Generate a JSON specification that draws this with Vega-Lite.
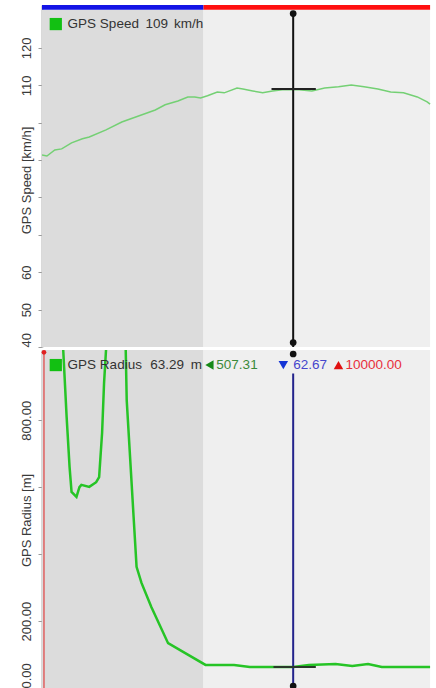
{
  "$schema": "https://vega.github.io/schema/vega-lite/v6.json",
  "padding": {"left": 20, "top": 5, "right": 0, "bottom": 0},
  "spacing": 3,
  "bounds": "flush",
  "config": {"view": {"stroke": null}, "font": "Liberation Sans", "axis": {"grid": false}},
  "datasets": {
    "zones": [{"start": 0, "end": 164, "zone": "A"}, {"start": 164, "end": 394, "zone": "B"}],
    "speed": [
      {"d": 0, "v": 91.4}, {"d": 5, "v": 91.1}, {"d": 13, "v": 92.7}, {"d": 20, "v": 93.0}, {"d": 30, "v": 94.6},
      {"d": 41, "v": 95.7}, {"d": 48, "v": 96.2}, {"d": 65, "v": 98.1}, {"d": 81, "v": 100.2}, {"d": 98, "v": 101.8},
      {"d": 115, "v": 103.4}, {"d": 125, "v": 104.8}, {"d": 138, "v": 105.8}, {"d": 148, "v": 106.9}, {"d": 155, "v": 106.9},
      {"d": 161, "v": 106.6}, {"d": 168, "v": 107.2}, {"d": 178, "v": 108.2}, {"d": 185, "v": 108.0}, {"d": 198, "v": 109.3},
      {"d": 204, "v": 109.0}, {"d": 214, "v": 108.5}, {"d": 224, "v": 108.0}, {"d": 234, "v": 108.5}, {"d": 244, "v": 108.8},
      {"d": 261, "v": 108.8}, {"d": 274, "v": 108.5}, {"d": 287, "v": 109.3}, {"d": 301, "v": 109.6}, {"d": 314, "v": 110.1},
      {"d": 327, "v": 109.6}, {"d": 341, "v": 109.0}, {"d": 354, "v": 108.2}, {"d": 367, "v": 108.0}, {"d": 381, "v": 106.9},
      {"d": 391, "v": 105.6}, {"d": 394, "v": 105.0}
    ],
    "radius": [
      {"d": 20, "v": 1100}, {"d": 25, "v": 810}, {"d": 28, "v": 660}, {"d": 30, "v": 586}, {"d": 35, "v": 571},
      {"d": 38, "v": 600}, {"d": 40, "v": 607}, {"d": 48, "v": 601}, {"d": 55, "v": 615}, {"d": 58, "v": 630},
      {"d": 61, "v": 762}, {"d": 63, "v": 911}, {"d": 65, "v": 1010}, {"d": 66, "v": 1100}, {"d": 84, "v": 1100},
      {"d": 85, "v": 1010}, {"d": 86, "v": 860}, {"d": 89, "v": 711}, {"d": 93, "v": 511}, {"d": 95, "v": 412},
      {"d": 96, "v": 362}, {"d": 101, "v": 314}, {"d": 111, "v": 242}, {"d": 128, "v": 134}, {"d": 145, "v": 105},
      {"d": 166, "v": 69}, {"d": 195, "v": 69}, {"d": 211, "v": 63}, {"d": 235, "v": 63}, {"d": 255, "v": 63},
      {"d": 271, "v": 69}, {"d": 298, "v": 72}, {"d": 315, "v": 66}, {"d": 331, "v": 72}, {"d": 345, "v": 63},
      {"d": 388, "v": 63}, {"d": 394, "v": 63}
    ]
  },
  "vconcat": [
    {
      "width": 394,
      "height": 342,
      "resolve": {"scale": {"color": "independent"}},
      "layer": [
        {
          "data": {"name": "zones"},
          "mark": "rect",
          "encoding": {
            "x": {"field": "start", "type": "quantitative", "scale": {"domain": [0, 394]}, "axis": null},
            "x2": {"field": "end"},
            "y": {
              "datum": 40, "type": "quantitative",
              "scale": {"domain": [40, 131.5], "nice": false, "zero": false},
              "axis": {
                "title": "GPS Speed [km/h]",
                "values": [40, 50, 60, 70, 80, 90, 100, 110, 120],
                "labelExpr": "datum.value >= 70 && datum.value <= 100 ? '' : datum.label",
                "format": "d",
                "labelAngle": -90,
                "labelAlign": {"condition": {"test": "datum.value == 40", "value": "left"}, "value": "center"},
                "labelBaseline": "bottom",
                "labelPadding": 5,
                "tickSize": 4,
                "tickColor": "#9a9a9a",
                "domainColor": "#b4b4b4",
                "domainWidth": 2,
                "labelColor": "#3a3a3a",
                "labelFontSize": 13,
                "titleFontSize": 13,
                "titleFontWeight": "normal",
                "titleColor": "#3a3a3a",
                "titleAngle": -90,
                "titleBaseline": "bottom",
                "titleAlign": "center",
                "titleX": -9,
                "titleY": 175,
                "grid": false
              }
            },
            "y2": {"datum": 130.2},
            "color": {"field": "zone", "type": "nominal", "scale": {"domain": ["A", "B"], "range": ["#dcdcdc", "#efefef"]}, "legend": null}
          }
        },
        {
          "data": {"name": "zones"},
          "mark": "rect",
          "encoding": {
            "x": {"field": "start", "type": "quantitative", "axis": null},
            "x2": {"field": "end"},
            "y": {"datum": 130.2, "type": "quantitative"},
            "y2": {"datum": 131.5},
            "color": {"field": "zone", "type": "nominal", "scale": {"domain": ["A", "B"], "range": ["#1414e6", "#ff1010"]}, "legend": null}
          }
        },
        {
          "data": {"name": "speed"},
          "mark": {"type": "line", "color": "#74d074", "strokeWidth": 1.5, "clip": true},
          "encoding": {
            "x": {"field": "d", "type": "quantitative", "axis": null},
            "y": {"field": "v", "type": "quantitative"}
          }
        },
        {
          "data": {"values": [{"d": 255}]},
          "mark": {"type": "rule", "color": "#111111", "strokeWidth": 2},
          "encoding": {
            "x": {"field": "d", "type": "quantitative", "axis": null},
            "y": {"datum": 40, "type": "quantitative"},
            "y2": {"datum": 129.5}
          }
        },
        {
          "data": {"values": [{"from": 233, "to": 278, "v": 109}]},
          "mark": {"type": "rule", "color": "#222222", "strokeWidth": 2},
          "encoding": {
            "x": {"field": "from", "type": "quantitative", "axis": null},
            "x2": {"field": "to"},
            "y": {"field": "v", "type": "quantitative"}
          }
        },
        {
          "data": {"values": [{"d": 255, "v": 129.2}, {"d": 255, "v": 41.2}]},
          "mark": {"type": "point", "filled": true, "color": "#111111", "size": 45, "opacity": 1},
          "encoding": {
            "x": {"field": "d", "type": "quantitative", "axis": null},
            "y": {"field": "v", "type": "quantitative"}
          }
        },
        {
          "data": {"values": [{"d": 14, "v": 126.4}]},
          "mark": {"type": "point", "shape": "square", "filled": true, "color": "#12c012", "size": 150, "opacity": 1},
          "encoding": {
            "x": {"field": "d", "type": "quantitative", "axis": null},
            "y": {"field": "v", "type": "quantitative"}
          }
        },
        {
          "data": {"values": [
            {"d": 26, "v": 126.4, "label": "GPS Speed"},
            {"d": 105, "v": 126.4, "label": "109"},
            {"d": 134, "v": 126.4, "label": "km/h"}
          ]},
          "mark": {"type": "text", "align": "left", "baseline": "middle", "fontSize": 13.5, "color": "#333333"},
          "encoding": {
            "x": {"field": "d", "type": "quantitative", "axis": null},
            "y": {"field": "v", "type": "quantitative"},
            "text": {"field": "label"}
          }
        }
      ]
    },
    {
      "width": 394,
      "height": 338,
      "resolve": {"scale": {"color": "independent", "shape": "independent"}},
      "layer": [
        {
          "data": {"name": "zones"},
          "mark": "rect",
          "encoding": {
            "x": {"field": "start", "type": "quantitative", "scale": {"domain": [0, 394]}, "axis": null},
            "x2": {"field": "end"},
            "y": {
              "datum": 0, "type": "quantitative",
              "scale": {"domain": [0, 1010], "nice": false, "zero": false},
              "axis": {
                "title": "GPS Radius [m]",
                "values": [0, 200, 400, 600, 800],
                "labelExpr": "datum.value == 400 || datum.value == 600 ? '' : datum.label",
                "format": ".2f",
                "labelAngle": -90,
                "labelAlign": {"condition": {"test": "datum.value == 0", "value": "left"}, "value": "center"},
                "labelBaseline": "bottom",
                "labelPadding": 5,
                "tickSize": 4,
                "tickColor": "#9a9a9a",
                "domainColor": "#b4b4b4",
                "domainWidth": 2,
                "labelColor": "#3a3a3a",
                "labelFontSize": 13,
                "titleFontSize": 13,
                "titleFontWeight": "normal",
                "titleColor": "#3a3a3a",
                "titleAngle": -90,
                "titleBaseline": "bottom",
                "titleAlign": "center",
                "titleX": -9,
                "titleY": 170,
                "grid": false
              }
            },
            "y2": {"datum": 1010},
            "color": {"field": "zone", "type": "nominal", "scale": {"domain": ["A", "B"], "range": ["#dcdcdc", "#efefef"]}, "legend": null}
          }
        },
        {
          "data": {"values": [{"d": 2}]},
          "mark": {"type": "rule", "color": "#e06060", "strokeWidth": 1.5},
          "encoding": {
            "x": {"field": "d", "type": "quantitative", "axis": null},
            "y": {"datum": 0, "type": "quantitative"},
            "y2": {"datum": 1005}
          }
        },
        {
          "data": {"values": [{"d": 2, "v": 1003}]},
          "mark": {"type": "point", "filled": true, "color": "#e02020", "size": 22, "opacity": 1},
          "encoding": {
            "x": {"field": "d", "type": "quantitative", "axis": null},
            "y": {"field": "v", "type": "quantitative"}
          }
        },
        {
          "data": {"name": "radius"},
          "mark": {"type": "line", "color": "#26c426", "strokeWidth": 2.5, "clip": true},
          "encoding": {
            "x": {"field": "d", "type": "quantitative", "axis": null},
            "y": {"field": "v", "type": "quantitative"}
          }
        },
        {
          "data": {"values": [{"d": 255}]},
          "mark": {"type": "rule", "color": "#23238c", "strokeWidth": 2},
          "encoding": {
            "x": {"field": "d", "type": "quantitative", "axis": null},
            "y": {"datum": 5, "type": "quantitative"},
            "y2": {"datum": 940}
          }
        },
        {
          "data": {"values": [{"from": 235, "to": 278, "v": 63}]},
          "mark": {"type": "rule", "color": "#2a3a2a", "strokeWidth": 2},
          "encoding": {
            "x": {"field": "from", "type": "quantitative", "axis": null},
            "x2": {"field": "to"},
            "y": {"field": "v", "type": "quantitative"}
          }
        },
        {
          "data": {"values": [{"d": 255, "v": 998}, {"d": 255, "v": 6}]},
          "mark": {"type": "point", "filled": true, "color": "#111111", "size": 45, "opacity": 1},
          "encoding": {
            "x": {"field": "d", "type": "quantitative", "axis": null},
            "y": {"field": "v", "type": "quantitative"}
          }
        },
        {
          "data": {"values": [{"d": 14, "v": 965}]},
          "mark": {"type": "point", "shape": "square", "filled": true, "color": "#12c012", "size": 150, "opacity": 1},
          "encoding": {
            "x": {"field": "d", "type": "quantitative", "axis": null},
            "y": {"field": "v", "type": "quantitative"}
          }
        },
        {
          "data": {"values": [
            {"d": 26, "v": 965, "label": "GPS Radius", "role": "name"},
            {"d": 110, "v": 965, "label": "63.29", "role": "name"},
            {"d": 151, "v": 965, "label": "m", "role": "name"},
            {"d": 177, "v": 965, "label": "507.31", "role": "left"},
            {"d": 255, "v": 965, "label": "62.67", "role": "cursor"},
            {"d": 308, "v": 965, "label": "10000.00", "role": "right"}
          ]},
          "mark": {"type": "text", "align": "left", "baseline": "middle", "fontSize": 13.5},
          "encoding": {
            "x": {"field": "d", "type": "quantitative", "axis": null},
            "y": {"field": "v", "type": "quantitative"},
            "text": {"field": "label"},
            "color": {"field": "role", "type": "nominal", "scale": {"domain": ["name", "left", "cursor", "right"], "range": ["#333333", "#3a8a3a", "#4646cc", "#e8303c"]}, "legend": null}
          }
        },
        {
          "data": {"values": [
            {"d": 170, "v": 965, "role": "left"},
            {"d": 245, "v": 965, "role": "cursor"},
            {"d": 301, "v": 965, "role": "right"}
          ]},
          "mark": {"type": "point", "filled": true, "size": 90, "opacity": 1},
          "encoding": {
            "x": {"field": "d", "type": "quantitative", "axis": null},
            "y": {"field": "v", "type": "quantitative"},
            "color": {"field": "role", "type": "nominal", "scale": {"domain": ["left", "cursor", "right"], "range": ["#178a17", "#1535d5", "#e01010"]}, "legend": null},
            "shape": {"field": "role", "type": "nominal", "scale": {"domain": ["left", "cursor", "right"], "range": ["triangle-left", "triangle-down", "triangle-up"]}, "legend": null}
          }
        }
      ]
    }
  ]
}
